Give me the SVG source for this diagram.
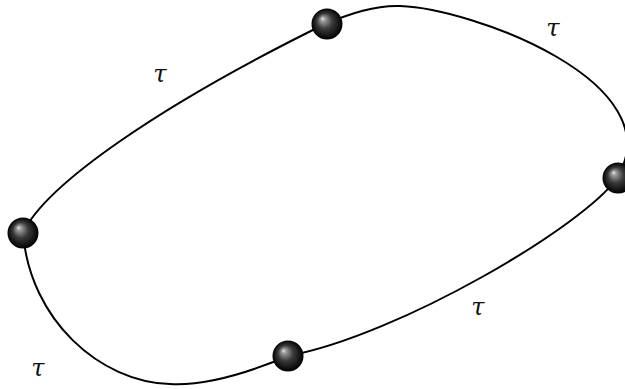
<svg xmlns="http://www.w3.org/2000/svg" width="625" height="389" viewBox="0 0 625 389">
  <style>
    .curve { fill: none; stroke: #000; stroke-width: 2; stroke-linecap: round; }
    .lbl { font-family: "DejaVu Serif", "Liberation Serif", serif; font-style: italic; font-size: 24px; fill: #111; text-anchor: middle; }
  </style>
  <defs>
    <radialGradient id="ball" cx="0.5" cy="0.5" r="0.5" fx="0.35" fy="0.32">
      <stop offset="0" stop-color="#e8e8e8"/>
      <stop offset="0.15" stop-color="#9a9a9a"/>
      <stop offset="0.5" stop-color="#3a3a3a"/>
      <stop offset="1" stop-color="#000"/>
    </radialGradient>
  </defs>
  <rect width="625" height="389" fill="#fff"/>
  <g id="connectors">
    <path class="curve" d="M23,233 C45,185 160,105 327,23"/>
    <path class="curve" d="M327,23 C350,14 375,5 400,6 C470,8 675,82 617,178"/>
    <path class="curve" d="M617,178 C585,225 400,335 288,356"/>
    <path class="curve" d="M288,356 C250,372 205,386 170,384 C100,382 30,320 23,233"/>
  </g>
  <g id="node-top"><circle cx="327" cy="24" r="15.5" fill="url(#ball)"/></g>
  <g id="node-left"><circle cx="23" cy="233" r="15.5" fill="url(#ball)"/></g>
  <g id="node-bottom"><circle cx="288" cy="356" r="15.5" fill="url(#ball)"/></g>
  <g id="node-right"><circle cx="618" cy="178" r="15.5" fill="url(#ball)"/></g>
  <g id="labels">
    <text class="lbl" x="160" y="82">τ</text>
    <text class="lbl" x="553" y="36">τ</text>
    <text class="lbl" x="478" y="315">τ</text>
    <text class="lbl" x="38" y="376">τ</text>
  </g>
</svg>
